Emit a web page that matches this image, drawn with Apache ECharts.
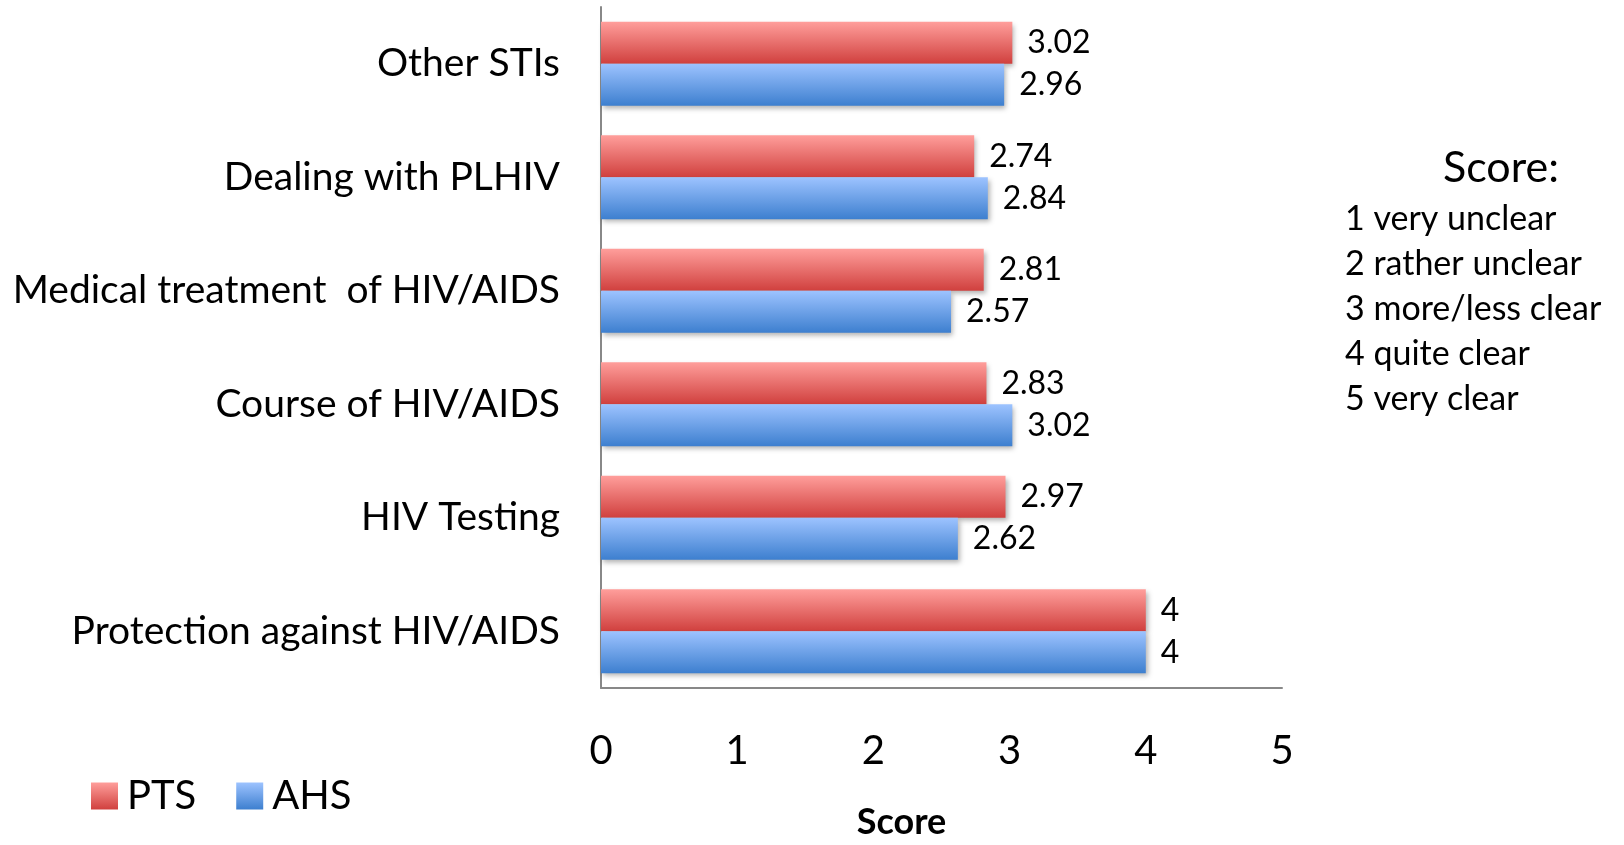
<!DOCTYPE html>
<html>
<head>
<meta charset="utf-8">
<script src="https://cdn.jsdelivr.net/npm/echarts@6/dist/echarts.min.js"></script>
<style>
  html, body { margin: 0; padding: 0; background: #fff; }
  #chart { width: 1624px; height: 845px; }
</style>
</head>
<body>
<div id="chart"></div>
<script>
// =====================
// Data
// =====================
const categories = [
  "Other STIs",
  "Dealing with PLHIV",
  "Medical treatment  of HIV/AIDS",
  "Course of HIV/AIDS",
  "HIV Testing",
  "Protection against HIV/AIDS"
]
const ptsValues = [3.02, 2.74, 2.81, 2.83, 2.97, 4]
const ahsValues = [2.96, 2.84, 2.57, 3.02, 2.62, 4]

const scoreTitle = "Score:"
const scoreLines = [
  "1 very unclear",
  "2 rather unclear",
  "3 more/less clear",
  "4 quite clear",
  "5 very clear"
]

const FONT = "Lato, 'Open Sans', sans-serif"

function grad(top, bottom) {
  return new echarts.graphic.LinearGradient(0, 0, 0, 1, [
    { offset: 0, color: top },
    { offset: 1, color: bottom }
  ])
}

const chart = echarts.init(document.getElementById("chart"))

const barLabel = {
  show: true,
  position: "right",
  distance: 15,
  color: "#000",
  fontSize: 32,
  fontFamily: FONT,
  formatter: p => String(p.value)
}

const barShadow = {
  shadowColor: "rgba(0,0,0,0.3)",
  shadowBlur: 5,
  shadowOffsetX: 2,
  shadowOffsetY: 3
}

const option = {
  animation: false,
  backgroundColor: "#fff",
  textStyle: { fontFamily: FONT },

  grid: { left: 601, right: 342, top: 7, bottom: 153, containLabel: false },

  legend: {
    left: 86,
    top: 771,
    itemWidth: 27,
    itemHeight: 27,
    itemGap: 40,
    icon: "rect",
    textStyle: { fontSize: 40, color: "#000", fontFamily: FONT, padding: [0, 0, 0, 4] },
    data: ["PTS", "AHS"]
  },

  xAxis: {
    type: "value",
    min: 0,
    max: 5,
    interval: 1,
    name: "Score",
    nameLocation: "middle",
    nameGap: 116,
    nameTextStyle: {
      fontSize: 36, fontWeight: "bold", color: "#000", fontFamily: FONT,
      padding: [0, 80, 0, 0]
    },
    axisLine: { show: true, lineStyle: { color: "#888", width: 2 } },
    axisTick: { show: false },
    splitLine: { show: false },
    axisLabel: { fontSize: 40, color: "#000", margin: 43, fontFamily: FONT }
  },

  yAxis: {
    type: "category",
    inverse: true,
    data: categories,
    axisLine: { show: true, lineStyle: { color: "#888", width: 2 } },
    axisTick: { show: false },
    axisLabel: { fontSize: 39, color: "#000", margin: 41, fontFamily: FONT }
  },

  series: [
    {
      name: "PTS",
      type: "bar",
      data: ptsValues,
      barWidth: 42,
      barGap: "0%",
      itemStyle: Object.assign({ color: grad("#ff9e9b", "#d0403e") }, barShadow),
      label: barLabel
    },
    {
      name: "AHS",
      type: "bar",
      data: ahsValues,
      barWidth: 42,
      barGap: "0%",
      itemStyle: Object.assign({ color: grad("#9dc3ff", "#3d7fcf") }, barShadow),
      label: barLabel
    }
  ],

  graphic: [
    {
      type: "text",
      left: 1443,
      top: 147,
      style: { text: scoreTitle, fontSize: 43, fill: "#000", fontFamily: FONT }
    },
    {
      type: "text",
      left: 1345,
      top: 197,
      style: {
        text: scoreLines.join("\n"),
        fontSize: 34,
        lineHeight: 45,
        fill: "#000",
        fontFamily: FONT
      }
    }
  ]
}

chart.setOption(option)
</script>
</body>
</html>
